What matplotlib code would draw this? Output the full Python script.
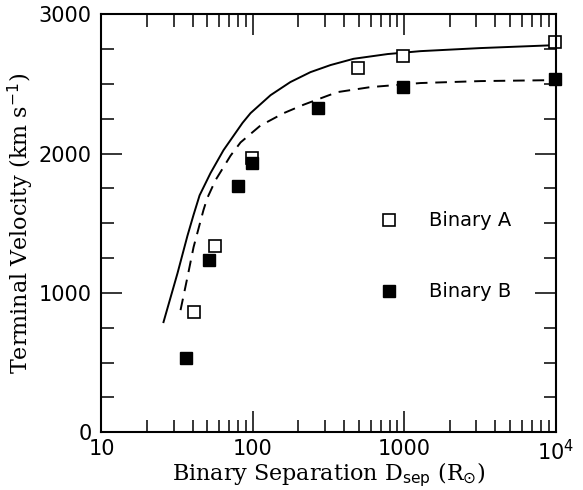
import matplotlib
matplotlib.use('Agg')
import matplotlib.pyplot as plt
from matplotlib.ticker import FixedLocator, FixedFormatter, MultipleLocator, LogLocator, NullFormatter

# Binary A (open squares)
sep_a = [41, 56, 99, 497, 980, 9900]
vel_a = [860, 1335, 1970, 2615, 2700, 2800]

# Binary B (filled squares)
sep_b = [36, 51, 80, 99, 270, 980, 9950]
vel_b = [530, 1235, 1765, 1935, 2325, 2480, 2535]

# model curves
solid_sep = [25.7, 31.8, 37, 40.6, 44.5, 52.5, 64, 85.5, 96.6, 131, 177, 240, 326, 463, 777, 1283, 3200, 10000]
solid_vel = [790, 1141, 1410, 1560, 1700, 1859, 2024, 2220, 2290, 2419, 2513, 2584, 2635, 2680, 2714, 2735, 2757, 2778]

dash_sep = [33.3, 37, 40.6, 47.2, 50, 56.7, 71.3, 83, 112, 160, 216, 312, 363, 600, 1283, 3200, 10000]
dash_vel = [876, 1113, 1328, 1594, 1680, 1809, 1985, 2080, 2200, 2290, 2350, 2415, 2441, 2477, 2506, 2520, 2527]

fig = plt.figure(figsize=(5.83, 4.90), dpi=100)
ax = fig.add_axes([0.174, 0.118, 0.779, 0.853])

ax.plot(solid_sep, solid_vel, color='black', lw=1.4)
ax.plot(dash_sep, dash_vel, color='black', lw=1.4, ls=(0, (6, 4)))
ax.plot(sep_a, vel_a, 's', mfc='white', mec='black', mew=1.2, ms=8, clip_on=False)
ax.plot(sep_b, vel_b, 's', mfc='black', mec='black', ms=8, clip_on=False)

ax.set_xscale('log')
ax.set_xlim(10, 1e4)
ax.set_ylim(0, 3000)

ax.xaxis.set_major_locator(FixedLocator([10, 100, 1000, 10000]))
ax.xaxis.set_major_formatter(FixedFormatter(['10', '100', '1000', '10$^4$']))
ax.xaxis.set_minor_locator(LogLocator(base=10, subs=range(2, 10)))
ax.xaxis.set_minor_formatter(NullFormatter())
ax.yaxis.set_major_locator(MultipleLocator(1000))
ax.yaxis.set_minor_locator(MultipleLocator(250))

ax.tick_params(which='both', direction='in', top=True, right=True, width=1.1, labelsize=15, pad=7)
ax.tick_params(axis='x', pad=5)
ax.tick_params(which='major', length=15)
ax.tick_params(which='minor', length=9)
for s in ax.spines.values():
    s.set_linewidth(1.5)

serif = {'family': 'DejaVu Serif', 'size': 16}
ax.set_xlabel(r'Binary Separation D$_{\rm sep}$ (R$_{\odot}$)', fontdict=serif, labelpad=-3)
ax.set_ylabel(r'Terminal Velocity (km s$^{-1}$)', fontdict=serif, labelpad=2)

# legend drawn as text
ax.plot([0.634], [0.507], 's', mfc='white', mec='black', mew=1.2, ms=8, transform=ax.transAxes)
ax.plot([0.634], [0.337], 's', mfc='black', mec='black', ms=8, transform=ax.transAxes)
ax.text(0.722, 0.507, 'Binary A', transform=ax.transAxes, va='center', fontsize=14)
ax.text(0.722, 0.337, 'Binary B', transform=ax.transAxes, va='center', fontsize=14)

fig.savefig('out.png', dpi=100)
